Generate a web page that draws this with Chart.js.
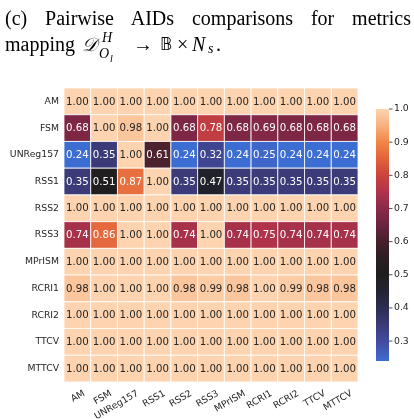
<!DOCTYPE html>
<html><head><meta charset="utf-8">
<script src="https://cdn.jsdelivr.net/npm/chart.js@4"></script>
<style>
html,body{margin:0;padding:0;background:#fff;width:414px;height:419px;overflow:hidden}
#wrap{position:relative;width:414px;height:419px}
#c{position:absolute;left:0;top:0}
.t{position:absolute;left:5px;width:406px;font-family:"Liberation Serif","DejaVu Serif",serif;font-size:20px;line-height:20px;color:#000;white-space:nowrap}
#l1{top:8px;text-align:justify;text-align-last:justify;white-space:normal}
#l2{top:34px;height:30px}
#l2 span{position:absolute;white-space:nowrap}
.i{font-style:italic}
</style></head>
<body>
<div id="wrap">
<canvas id="c" width="414" height="419"></canvas>
<div class="t" id="l1">(c) Pairwise AIDs comparisons for metrics</div>
<div class="t" id="l2">
<span style="left:0;top:0">mapping</span>
<span style="left:77px;top:0;font-family:'DejaVu Serif','DejaVu Sans',serif;font-style:italic;font-size:19px">𝒟</span>
<span class="i" style="left:97px;top:-6px;font-size:14px">H</span>
<span class="i" style="left:94px;top:10px;font-size:14px">O</span>
<span class="i" style="left:105px;top:15px;font-size:10px">l</span>
<span style="left:128px;top:0">→</span>
<span style="left:155px;top:0;font-family:'DejaVu Sans',sans-serif;font-size:17px">𝔹</span>
<span style="left:172px;top:0">×</span>
<span class="i" style="left:187px;top:0">N</span>
<span class="i" style="left:203px;top:5px;font-size:14px">s</span>
<span style="left:211px;top:0">.</span>
</div>
</div>
<script>
// ---- data ----
const rowLabels = ['AM','FSM','UNReg157','RSS1','RSS2','RSS3','MPrISM','RCRI1','RCRI2','TTCV','MTTCV'];
const colLabels = ['AM','FSM','UNReg157','RSS1','RSS2','RSS3','MPrISM','RCRI1','RCRI2','TTCV','MTTCV'];
const rowAM       = [1.00,1.00,1.00,1.00,1.00,1.00,1.00,1.00,1.00,1.00,1.00];
const rowFSM      = [0.68,1.00,0.98,1.00,0.68,0.78,0.68,0.69,0.68,0.68,0.68];
const rowUNReg157 = [0.24,0.35,1.00,0.61,0.24,0.32,0.24,0.25,0.24,0.24,0.24];
const rowRSS1     = [0.35,0.51,0.87,1.00,0.35,0.47,0.35,0.35,0.35,0.35,0.35];
const rowRSS2     = [1.00,1.00,1.00,1.00,1.00,1.00,1.00,1.00,1.00,1.00,1.00];
const rowRSS3     = [0.74,0.86,1.00,1.00,0.74,1.00,0.74,0.75,0.74,0.74,0.74];
const rowMPrISM   = [1.00,1.00,1.00,1.00,1.00,1.00,1.00,1.00,1.00,1.00,1.00];
const rowRCRI1    = [0.98,1.00,1.00,1.00,0.98,0.99,0.98,1.00,0.99,0.98,0.98];
const rowRCRI2    = [1.00,1.00,1.00,1.00,1.00,1.00,1.00,1.00,1.00,1.00,1.00];
const rowTTCV     = [1.00,1.00,1.00,1.00,1.00,1.00,1.00,1.00,1.00,1.00,1.00];
const rowMTTCV    = [1.00,1.00,1.00,1.00,1.00,1.00,1.00,1.00,1.00,1.00,1.00];
const colorbarTicks = [0.3,0.4,0.5,0.6,0.7,0.8,0.9,1.0];
const vmin = 0.24, vmax = 1.0;

const matrix = [rowAM,rowFSM,rowUNReg157,rowRSS1,rowRSS2,rowRSS3,rowMPrISM,rowRCRI1,rowRCRI2,rowTTCV,rowMTTCV];

// ---- colormap (icefire-like) ----
const cmapStops = [
  [0.24,'#3c6dd3'],[0.25,'#3f66c9'],[0.30,'#434ba0'],[0.35,'#3a3b78'],[0.40,'#2c2d52'],
  [0.45,'#232333'],[0.50,'#1e1e1f'],[0.55,'#2b1e21'],[0.60,'#46202a'],[0.65,'#69243f'],
  [0.70,'#8a2949'],[0.75,'#b0334a'],[0.80,'#cb433d'],[0.85,'#e3623a'],[0.90,'#ef8646'],
  [0.95,'#f8b17f'],[1.00,'#fdd4af']
];
function hex2rgb(h){return [parseInt(h.substr(1,2),16),parseInt(h.substr(3,2),16),parseInt(h.substr(5,2),16)];}
function cmapRGB(v){
  if (v <= cmapStops[0][0]) return hex2rgb(cmapStops[0][1]);
  for (let i=1;i<cmapStops.length;i++){
    if (v <= cmapStops[i][0]){
      const [v0,c0]=cmapStops[i-1],[v1,c1]=cmapStops[i];
      const t=(v-v0)/(v1-v0), a=hex2rgb(c0), b=hex2rgb(c1);
      return a.map((x,k)=>Math.round(x+(b[k]-x)*t));
    }
  }
  return hex2rgb(cmapStops[cmapStops.length-1][1]);
}
function cmap(v){const c=cmapRGB(v);return `rgb(${c[0]},${c[1]},${c[2]})`;}
function lum(c){
  const f=x=>{x/=255;return x<=0.03928?x/12.92:Math.pow((x+0.055)/1.055,2.4);};
  return 0.2126*f(c[0])+0.7152*f(c[1])+0.0722*f(c[2]);
}

const points = [];
matrix.forEach((row,r)=>row.forEach((v,c)=>points.push({x:colLabels[c], y:rowLabels[r], v})));

const TXT = '#262626';
const tickFont = {family:'DejaVu Sans', size:9.3};

const annotate = {
  id:'annotate',
  afterDatasetsDraw(chart){
    const ctx=chart.ctx, meta=chart.getDatasetMeta(0);
    ctx.save();
    ctx.font='10.2px "DejaVu Sans"';
    ctx.textAlign='center'; ctx.textBaseline='middle';
    meta.data.forEach((el,i)=>{
      const v=points[i].v;
      ctx.fillStyle = lum(cmapRGB(v))>0.408 ? TXT : '#ffffff';
      ctx.fillText(v.toFixed(2), el.x, el.y+0.5);
    });
    ctx.restore();
  }
};

const colorbar = {
  id:'colorbar',
  afterDraw(chart){
    const ctx=chart.ctx;
    const x0=376, w=13, top=109, bottom=361;
    const g=ctx.createLinearGradient(0,bottom,0,top);
    cmapStops.forEach(([v,c])=>g.addColorStop((v-vmin)/(vmax-vmin),c));
    ctx.save();
    ctx.fillStyle=g; ctx.fillRect(x0,top,w,bottom-top);
    ctx.strokeStyle=TXT; ctx.lineWidth=0.8;
    ctx.fillStyle=TXT; ctx.font='9.3px "DejaVu Sans"';
    ctx.textAlign='left'; ctx.textBaseline='middle';
    colorbarTicks.forEach(t=>{
      const y=bottom-(t-vmin)/(vmax-vmin)*(bottom-top);
      ctx.beginPath(); ctx.moveTo(x0+w,y); ctx.lineTo(x0+w+3.5,y); ctx.stroke();
      ctx.fillText(t.toFixed(1), x0+w+5, y);
    });
    ctx.restore();
  }
};

new Chart(document.getElementById('c'), {
  type:'scatter',
  data:{datasets:[{
    data:points,
    pointStyle:'rect',
    radius:ctx=>{const a=ctx.chart.chartArea;return a?(a.right-a.left)/colLabels.length/2*Math.SQRT2:10;},
    backgroundColor:ctx=>cmap(ctx.raw?ctx.raw.v:1),
    borderColor:'#ffffff',
    borderWidth:0.8
  }]},
  options:{
    responsive:false, animation:false, events:[],
    layout:{padding:{top:88,right:56,left:0,bottom:0}},
    plugins:{legend:{display:false},tooltip:{enabled:false}},
    scales:{
      x:{type:'category', labels:colLabels, offset:true,
         grid:{display:false,drawTicks:false}, border:{display:false},
         ticks:{autoSkip:false,minRotation:30,maxRotation:30,font:tickFont,color:TXT,padding:6,labelOffset:7},
         afterFit(s){s.height=37;}},
      y:{type:'category', labels:rowLabels, offset:true,
         grid:{display:false,drawTicks:false}, border:{display:false},
         ticks:{autoSkip:false,font:tickFont,color:TXT,padding:5},
         afterFit(s){s.width=64;}}
    }
  },
  plugins:[annotate,colorbar]
});
</script>
</body></html>
